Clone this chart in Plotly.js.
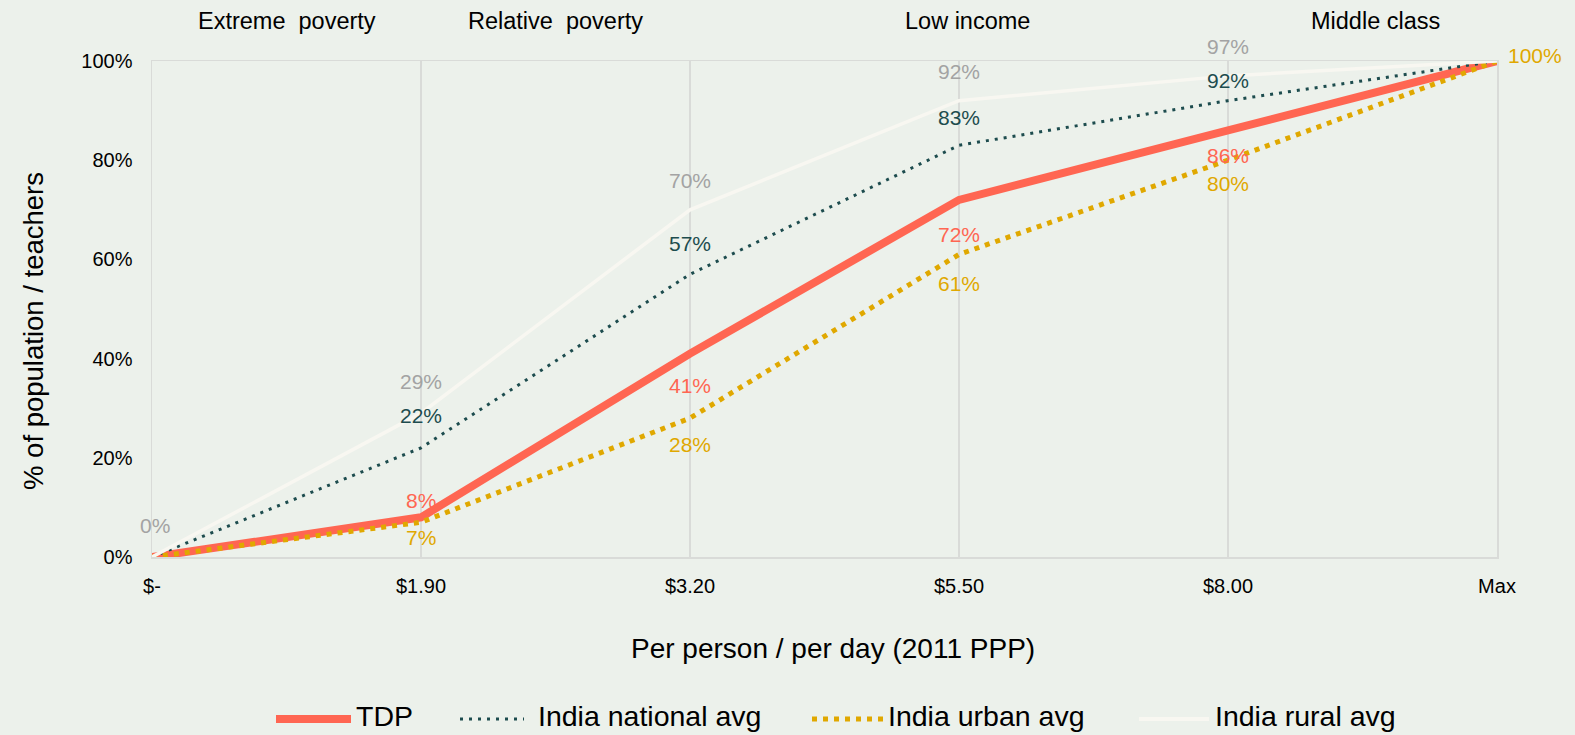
<!DOCTYPE html>
<html>
<head>
<meta charset="utf-8">
<script src="https://cdn.plot.ly/plotly-3.0.1.min.js"></script>
<style>html,body{margin:0;padding:0;background:#ecf1eb;}#chart{width:1575px;height:735px;}</style>
</head>
<body>
<div id="chart"></div>
<script>
// ---- data ----
const categories = ['$-', '$1.90', '$3.20', '$5.50', '$8.00', 'Max'];
const tdp      = [0, 8, 41, 72, 86, 100];
const national = [0, 22, 57, 83, 92, 100];
const urban    = [0, 7, 28, 61, 80, 100];
const rural    = [0, 29, 70, 92, 97, 100];
const yTickVals = [0, 20, 40, 60, 80, 100];
const yTickText = ['0%', '20%', '40%', '60%', '80%', '100%'];
const bandLabels = ['Extreme\u00A0 poverty', 'Relative\u00A0 poverty', 'Low income', 'Middle class'];
const seriesNames = ['TDP', 'India national avg', 'India urban avg', 'India rural avg'];

// ---- styling / layout ----
const W = 1575, H = 735;
const M = {l: 152, r: 78, t: 61, b: 178};
const plotW = W - M.l - M.r, plotH = H - M.t - M.b;
const px = x => (x - M.l) / plotW;
const py = y => (H - M.b - y) / plotH;

const colors = {tdp: '#ff6652', national: '#1d4c4e', urban: '#e0a800', rural: '#f8f7f1', ruralLabel: '#a3a3a3', grid: '#d9dbd8'};
const font = 'Liberation Sans, Arial, sans-serif';

const traces = [
  {name: seriesNames[0], y: tdp, line: {color: colors.tdp, width: 8}},
  {name: seriesNames[1], y: national, line: {color: colors.national, width: 3, dash: '3px,6px'}},
  {name: seriesNames[2], y: urban, line: {color: colors.urban, width: 5, dash: '5px,6px'}},
  {name: seriesNames[3], y: rural, line: {color: colors.rural, width: 3.5}}
].map(t => Object.assign({x: categories, type: 'scatter', mode: 'lines', hoverinfo: 'x+y', showlegend: false}, t));

// data labels: which points carry labels and their vertical offset (px, + = up)
const labelSpecs = [
  {vals: rural, color: colors.ruralLabel, shifts: [32, 32, 29, 29, 29, null]},
  {vals: national, color: colors.national, shifts: [null, 32, 31, 28, 20, null]},
  {vals: tdp, color: colors.tdp, shifts: [null, 17, -32, -35, -25, null]},
  {vals: urban, color: colors.urban, shifts: [null, -15, -26, -29, -23, 'right']}
];
const annotations = [];
labelSpecs.forEach(s => {
  s.vals.forEach((v, i) => {
    const sh = s.shifts[i];
    if (sh === null) return;
    const a = {x: categories[i], y: v, xref: 'x', yref: 'y', text: v + '%', showarrow: false,
      font: {family: font, size: 21, color: s.color}, xanchor: 'center', yanchor: 'middle'};
    if (sh === 'right') { a.xanchor = 'left'; a.xshift = 9; a.yshift = 6; }
    else { a.yshift = sh; if (i === 0) a.xshift = 3; }
    annotations.push(a);
  });
});

// band labels above the plot
const bandX = [0.5, 1.5, 3.03, 4.55];
bandLabels.forEach((t, i) => annotations.push({x: bandX[i], y: py(21), xref: 'x', yref: 'paper', text: t,
  showarrow: false, font: {family: font, size: 23.5, color: '#000'}, xanchor: 'center', yanchor: 'middle'}));

// axis titles
annotations.push({x: px(833), y: py(648), xref: 'paper', yref: 'paper', text: 'Per person / per day (2011 PPP)',
  showarrow: false, font: {family: font, size: 28, color: '#000'}, xanchor: 'center', yanchor: 'middle'});
annotations.push({x: px(33), y: py(331), xref: 'paper', yref: 'paper', text: '% of population / teachers', textangle: -90,
  showarrow: false, font: {family: font, size: 27.5, color: '#000'}, xanchor: 'center', yanchor: 'middle'});

// custom legend
const legendItems = [
  {x0: 276, x1: 351, tx: 355, line: {color: colors.tdp, width: 8}},
  {x0: 460, x1: 524, tx: 537, line: {color: colors.national, width: 3, dash: '3px,6px'}},
  {x0: 812, x1: 884, tx: 887, line: {color: colors.urban, width: 5, dash: '5px,6px'}},
  {x0: 1139, x1: 1209, tx: 1214, line: {color: colors.rural, width: 4}}
];
const shapes = [];
const legY = 719;
legendItems.forEach((it, i) => {
  shapes.push({type: 'line', xref: 'paper', yref: 'paper', x0: px(it.x0), x1: px(it.x1), y0: py(legY), y1: py(legY), line: it.line});
  annotations.push({x: px(it.tx), y: py(716), xref: 'paper', yref: 'paper', text: seriesNames[i], showarrow: false,
    font: {family: font, size: 28.5, color: '#000'}, xanchor: 'left', yanchor: 'middle', borderpad: 0});
});

const layout = {
  width: W, height: H,
  margin: M,
  paper_bgcolor: '#ecf1eb', plot_bgcolor: '#ecf1eb',
  showlegend: false,
  xaxis: {type: 'category', categoryorder: 'array', categoryarray: categories, range: [0, 5],
    showgrid: true, gridcolor: colors.grid, gridwidth: 1.5, zeroline: false,
    showline: true, linecolor: colors.grid, linewidth: 1.5, mirror: true,
    ticks: '', ticklabelstandoff: 10, tickfont: {family: font, size: 20, color: '#000'}, fixedrange: true},
  yaxis: {range: [0, 100], tickvals: yTickVals, ticktext: yTickText, showgrid: false, zeroline: false,
    showline: true, linecolor: colors.grid, linewidth: 1.5, mirror: true,
    ticks: '', ticklabelstandoff: 14, tickfont: {family: font, size: 20, color: '#000'}, fixedrange: true},
  annotations: annotations,
  shapes: shapes
};

Plotly.newPlot('chart', traces, layout, {displayModeBar: false, staticPlot: true});
</script>
</body>
</html>
